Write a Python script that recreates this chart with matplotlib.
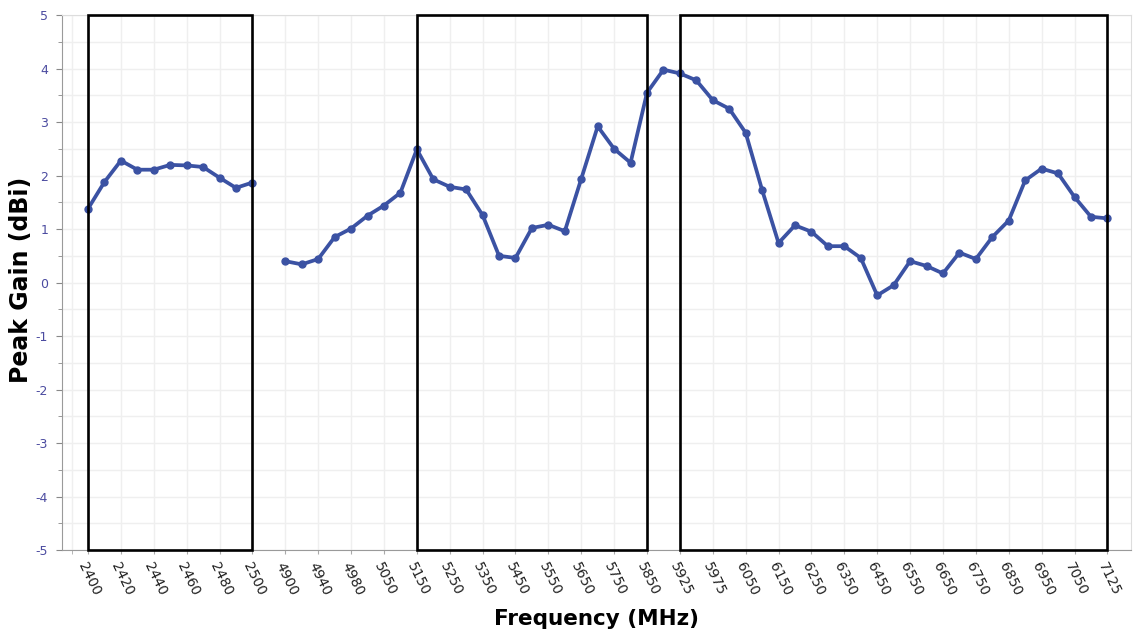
"""Peak gain vs frequency across the 2.4 / 5 / 6 GHz bands."""

import numpy as np
import matplotlib

matplotlib.use("Agg")
import matplotlib.pyplot as plt
from matplotlib.patches import Rectangle

plt.rcParams["axes.unicode_minus"] = False

# categorical frequency slots (MHz); None marks the break between bands
FREQS = (
    [2400, 2410, 2420, 2430, 2440, 2450, 2460, 2470, 2480, 2490, 2500, None]
    + [4900, 4920, 4940, 4960, 4980, 5015, 5050, 5100]
    + list(range(5150, 5851, 50))
    + [5890, 5925, 5950, 5975, 6000, 6050, 6100]
    + list(range(6150, 7051, 50))
    + [7100, 7125]
)
GAIN = [
    1.38, 1.88, 2.28, 2.11, 2.11, 2.20, 2.19, 2.16, 1.96, 1.77, 1.87, np.nan,
    0.40, 0.34, 0.44, 0.85, 1.01, 1.25, 1.44, 1.68,
    2.49, 1.93, 1.79, 1.74, 1.26, 0.50, 0.46, 1.02, 1.08, 0.96, 1.94, 2.92,
    2.50, 2.24, 3.55,
    3.98, 3.91, 3.78, 3.41, 3.25, 2.80, 1.73,
    0.74, 1.07, 0.95, 0.68, 0.68, 0.46, -0.24, -0.05, 0.40, 0.31, 0.17, 0.56,
    0.44, 0.85, 1.16, 1.91, 2.13, 2.04, 1.60,
    1.23, 1.20,
]
# band boxes given as (first slot, last slot)
BANDS = [(0, 10), (20, 34), (36, 62)]

LINE_COLOR = "#3b52a3"
TICK_BLUE = "#4b4ba0"

fig = plt.figure(figsize=(11.34, 6.3), dpi=100)
ax = fig.add_axes([0.0547, 0.127, 0.943, 0.849])

slots = np.arange(len(FREQS))
ax.plot(slots, GAIN, color=LINE_COLOR, lw=2.7, marker="o", ms=5,
        solid_joinstyle="round", zorder=4)

for start, end in BANDS:
    ax.add_patch(Rectangle((start, -5), end - start, 10, fill=False,
                           edgecolor="black", lw=1.9, zorder=5, clip_on=False))

tick_slots = [i for i in slots if i % 2 == 0]
ax.set_xticks(tick_slots, labels=[str(FREQS[i]) for i in tick_slots],
              rotation=-64, ha="left", va="top", rotation_mode="anchor",
              fontsize=10, color="#222222")
ax.set_xticks([-1], minor=True)
ax.set_xlim(-1.58, 63.46)

ax.set_ylim(-5, 5)
ax.set_yticks(range(-5, 6))
ax.set_yticks(np.arange(-4.5, 5, 1.0), minor=True)
ax.tick_params(axis="y", which="major", labelsize=9, labelcolor=TICK_BLUE,
               color="#888888", length=4, pad=6)
ax.tick_params(axis="y", which="minor", color="#888888", length=3)
ax.tick_params(axis="x", which="both", color="#aaaaaa", length=3, pad=4)

ax.grid(True, which="both", color="#efefef", lw=1.0, zorder=0)
ax.set_axisbelow(True)

for side in ("left", "bottom"):
    ax.spines[side].set_color("#9a9a9a")
for side in ("top", "right"):
    ax.spines[side].set_color("#dddddd")

ax.set_xlabel("Frequency (MHz)", fontsize=15.5, fontweight="bold", labelpad=8)
ax.set_ylabel("Peak Gain (dBi)", fontsize=17, fontweight="bold")
ax.yaxis.set_label_coords(-0.0275, 0.505)

fig.savefig("out.png", dpi=100)
